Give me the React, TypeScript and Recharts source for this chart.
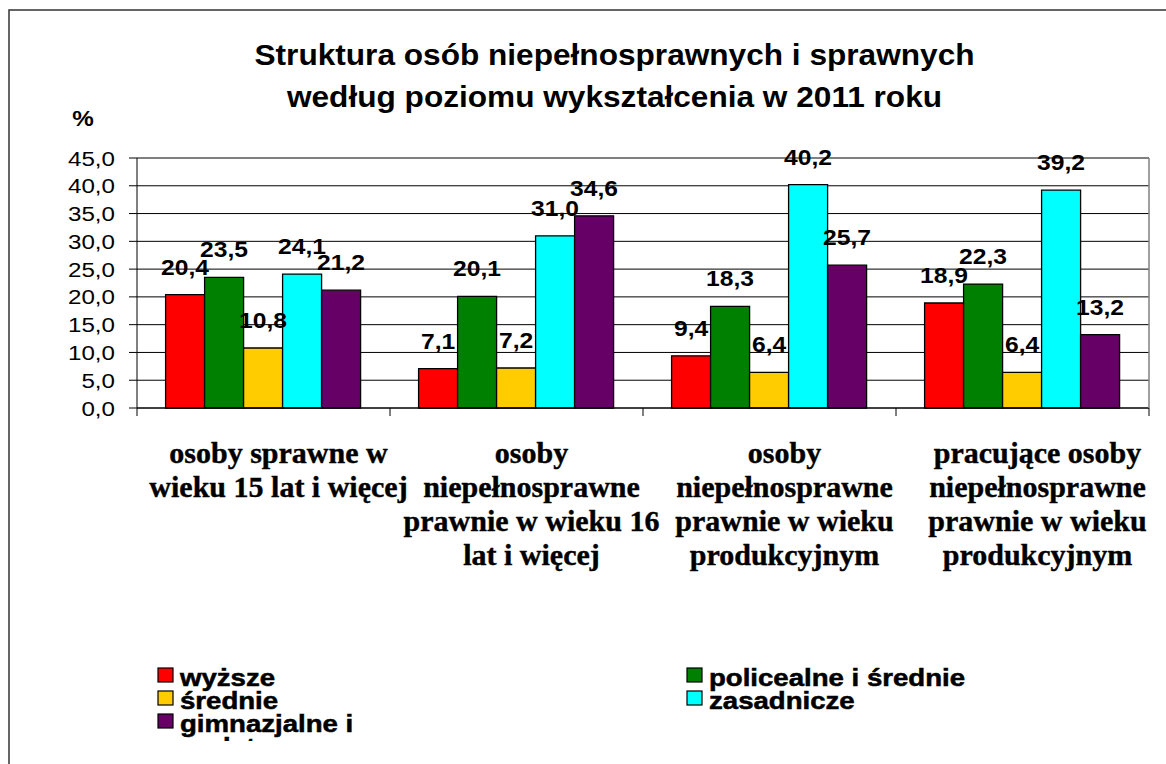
import React from 'react';
import { BarChart, Bar, XAxis, YAxis, CartesianGrid, LabelList } from 'recharts';

const categories = [
  'osoby sprawne w\nwieku 15 lat i więcej',
  'osoby\nniepełnosprawne\nprawnie w wieku 16\nlat i więcej',
  'osoby\nniepełnosprawne\nprawnie w wieku\nprodukcyjnym',
  'pracujące osoby\nniepełnosprawne\nprawnie w wieku\nprodukcyjnym',
];
const wyzsze = [20.4, 7.1, 9.4, 18.9];
const policealne = [23.5, 20.1, 18.3, 22.3];
const srednie = [10.8, 7.2, 6.4, 6.4];
const zasadnicze = [24.1, 31.0, 40.2, 39.2];
const gimnazjalne = [21.2, 34.6, 25.7, 13.2];
const yTicks = [0, 5, 10, 15, 20, 25, 30, 35, 40, 45];
const titleLines = [
  'Struktura osób niepełnosprawnych i sprawnych',
  'według poziomu wykształcenia w 2011 roku',
];
const yUnit = '%';

const seriesKeys = ['wyzsze', 'policealne', 'srednie', 'zasadnicze', 'gimnazjalne'];
const seriesNames = ['wyższe', 'policealne i średnie', 'średnie', 'zasadnicze', 'gimnazjalne i\npodstawowe'];
const seriesColors = ['#FF0000', '#008000', '#FFCC00', '#00FFFF', '#660066'];
const seriesValues = [wyzsze, policealne, srednie, zasadnicze, gimnazjalne];

const data = categories.map((name, i) => {
  const row: Record<string, any> = { name };
  seriesKeys.forEach((k, s) => {
    row[k] = seriesValues[s][i];
  });
  return row;
});

const fmt = (v: any) => Number(v).toFixed(1).replace('.', ',');
const SANS = '"Liberation Sans", Arial, sans-serif';
const SERIF = '"Liberation Serif", "Times New Roman", serif';

const renderLabel = (props: any) => {
  const { x, y, width, value } = props;
  const cx = Number(x) + Number(width) / 2;
  return (
    <text
      transform={`translate(${cx},${Number(y) - 20}) scale(1.12,1)`}
      textAnchor="middle"
      fontFamily={SANS}
      fontWeight="bold"
      fontSize={22}
      fill="#000"
    >
      {fmt(value)}
    </text>
  );
};

const YTick = (props: any) => {
  const { x, y, payload } = props;
  return (
    <text
      transform={`translate(${x},${Number(y) + 7.5}) scale(1.15,1)`}
      textAnchor="end"
      fontFamily={SANS}
      fontSize={21}
      fill="#000"
    >
      {fmt(payload.value)}
    </text>
  );
};

const XTick = (props: any) => {
  const { x, y, payload, width, visibleTicksCount, index } = props;
  const lines = String(payload.value).split('\n');
  const cx = Number(x) + 15;
  const band = Number(width) / Number(visibleTicksCount || categories.length);
  const yy = Number(y);
  const right = Number(x) + band / 2;
  const left = Number(x) - band / 2;
  return (
    <g>
      {index === 0 && <line x1={left} x2={left} y1={yy} y2={yy + 8} stroke="#000" strokeWidth={1} />}
      <line x1={right} x2={right} y1={yy} y2={yy + 8} stroke="#000" strokeWidth={1} />
      <text textAnchor="middle" fontFamily={SERIF} fontWeight="bold" fontSize={30} fill="#000" stroke="#000" strokeWidth={0.4}>
        {lines.map((l, i) => (
          <tspan key={i} x={cx} y={yy + 55 + i * 34}>
            {l}
          </tspan>
        ))}
      </text>
    </g>
  );
};

const Overlay = () => {
  const legendCols = [
    { sq: 158, tx: 180 },
    { sq: 687, tx: 709 },
  ];
  const items = seriesNames.map((n, i) => ({ name: n, color: seriesColors[i], col: i % 2, row: Math.floor(i / 2) }));
  const baseY = 686;
  return (
    <svg
      width={1166}
      height={764}
      style={{ position: 'absolute', left: 0, top: 0, pointerEvents: 'none' }}
    >
      <defs>
        <clipPath id="legclip">
          <rect x={0} y={600} width={1166} height={141} />
        </clipPath>
      </defs>
      <path d="M 9 764 L 9 10 L 1166 10" fill="none" stroke="#333" strokeWidth={1.5} />
      {titleLines.map((t, i) => (
        <text
          key={i}
          transform={`translate(614.5,${65 + i * 42}) scale(1.09,1)`}
          textAnchor="middle"
          fontFamily={SANS}
          fontWeight="bold"
          fontSize={29}
          fill="#000"
        >
          {t}
        </text>
      ))}
      <text
        transform="translate(83,126) scale(1.1,1)"
        textAnchor="middle"
        fontFamily={SANS}
        fontWeight="bold"
        fontSize={22}
        fill="#000"
      >
        {yUnit}
      </text>
      <g clipPath="url(#legclip)">
        {items.map((it, i) => {
          const c = legendCols[it.col];
          const by = baseY + it.row * 23;
          const lines = it.name.split('\n');
          return (
            <g key={i}>
              <rect x={c.sq} y={by - 18} width={15} height={14} fill={it.color} stroke="#000" strokeWidth={1.2} />
              {lines.map((l, j) => (
                <text
                  key={j}
                  transform={`translate(${c.tx},${by + j * 23}) scale(1.2,1)`}
                  fontFamily={SANS}
                  fontWeight="bold"
                  fontSize={23}
                  fill="#000"
                  stroke="#000"
                  strokeWidth={0.5}
                >
                  {l}
                </text>
              ))}
            </g>
          );
        })}
      </g>
    </svg>
  );
};

export default function App() {
  return (
    <div style={{ position: 'absolute', left: 0, top: 0, width: 1166, height: 764, background: '#fff', overflow: 'hidden' }}>
      <BarChart
        width={1166}
        height={764}
        data={data}
        margin={{ top: 157, right: 16, bottom: 206, left: 37 }}
        barCategoryGap="11.3%"
        barGap={0}
      >
        <CartesianGrid xAxisId="cat" yAxisId="left" vertical={false} stroke="#000" strokeWidth={1} />
        <XAxis
          xAxisId="cat"
          dataKey="name"
          height={150}
          interval={0}
          tickSize={0}
          tickMargin={0}
          axisLine={{ stroke: '#000', strokeWidth: 1 }}
          tickLine={false}
          tick={<XTick />}
        />
        <XAxis
          xAxisId="top"
          orientation="top"
          dataKey="name"
          height={1}
          tick={false}
          tickLine={false}
          axisLine={{ stroke: '#808080', strokeWidth: 1.5 }}
        />
        <YAxis
          yAxisId="left"
          width={100}
          domain={[0, 45]}
          ticks={yTicks}
          interval={0}
          tickSize={8}
          tickMargin={14}
          axisLine={{ stroke: '#000', strokeWidth: 1 }}
          tickLine={{ stroke: '#000', strokeWidth: 1 }}
          tick={<YTick />}
        />
        <YAxis
          yAxisId="right"
          orientation="right"
          width={1}
          tick={false}
          tickLine={false}
          axisLine={{ stroke: '#808080', strokeWidth: 1.5 }}
        />
        {seriesKeys.map((k, s) => (
          <Bar
            key={k}
            xAxisId="cat"
            yAxisId="left"
            dataKey={k}
            name={seriesNames[s]}
            fill={seriesColors[s]}
            stroke="#000"
            strokeWidth={1.3}
            isAnimationActive={false}
          >
            <LabelList dataKey={k} content={renderLabel} />
          </Bar>
        ))}
      </BarChart>
      <Overlay />
    </div>
  );
}
